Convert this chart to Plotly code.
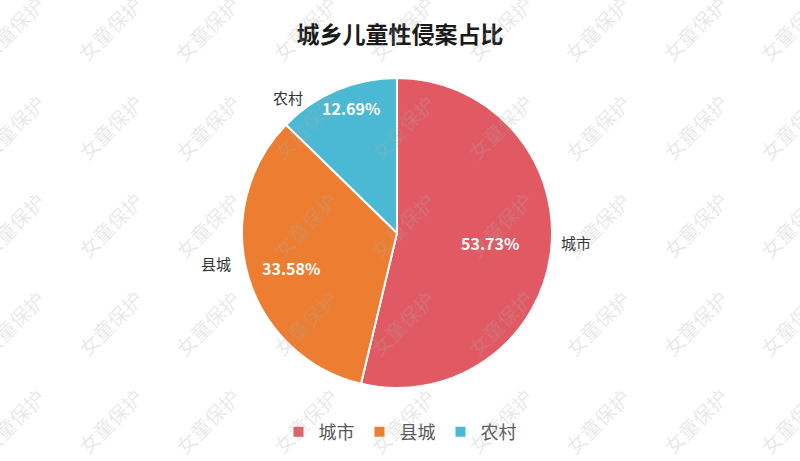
"""Pie chart: share of urban / county / rural child sexual-abuse cases."""
import plotly.graph_objects as go

labels = ["城市", "县城", "农村"]
shares = [53.73, 33.58, 12.69]
colors = ["#E15A63", "#ED7D31", "#4BB9D3"]

W, H = 800, 461
cx, cy, r = 397, 233, 155

# where the category labels and percentage labels sit (pixels from top-left)
label_px = [(576, 243), (216, 263), (288, 97)]
pct_px = [(490, 243), (291, 268), (351, 108)]

fig = go.Figure()
fig.add_trace(
    go.Pie(
        labels=labels,
        values=shares,
        sort=False,
        direction="clockwise",
        rotation=0,
        marker=dict(colors=colors, line=dict(color="white", width=2)),
        textinfo="none",
        hoverinfo="label+percent",
        domain=dict(x=[(cx - r) / W, (cx + r) / W], y=[1 - (cy + r) / H, 1 - (cy - r) / H]),
    )
)

total = sum(shares)
annotations = []
for name, val, (lx, ly), (px, py) in zip(labels, shares, label_px, pct_px):
    annotations.append(
        dict(
            x=lx / W, y=1 - ly / H, xref="paper", yref="paper", text=name, showarrow=False,
            xanchor="center", yanchor="middle",
            font=dict(family="Noto Sans CJK SC", size=15, color="#333333"),
        )
    )
    annotations.append(
        dict(
            x=px / W, y=1 - py / H, xref="paper", yref="paper",
            text=f"<b>{val / total:.2%}</b>", showarrow=False,
            xanchor="center", yanchor="middle",
            font=dict(family="Noto Sans CJK SC", size=16, color="white"),
        )
    )

# watermark grid
for row in range(-1, 6):
    for col in range(-1, 9):
        x0 = 12 + 97.5 * col
        y0 = 29 + 98 * row
        annotations.append(
            dict(
                x=x0 / W, y=1 - y0 / H, xref="paper", yref="paper", text="女童保护",
                showarrow=False, textangle=-45, xanchor="center", yanchor="middle",
                font=dict(family="Noto Sans CJK SC", size=20, color="rgba(170,170,170,0.25)"),
            )
        )

fig.update_layout(
    width=W,
    height=H,
    paper_bgcolor="white",
    plot_bgcolor="white",
    margin=dict(l=0, r=0, t=0, b=0),
    title=dict(
        text="<b>城乡儿童性侵案占比</b>",
        x=0.5, xanchor="center", y=1 - 35 / H, yanchor="middle",
        font=dict(family="Noto Sans CJK SC", size=23, color="#1a1a1a"),
    ),
    legend=dict(
        orientation="h", x=0.5, xanchor="center", y=1 - 432 / H, yanchor="middle",
        font=dict(family="Noto Sans CJK SC", size=18, color="#595959"),
        itemwidth=30,
    ),
    annotations=annotations,
)

fig.write_html(
    "out.html",
    config={"displayModeBar": False},
    post_script="document.body.style.margin='0';",
)
